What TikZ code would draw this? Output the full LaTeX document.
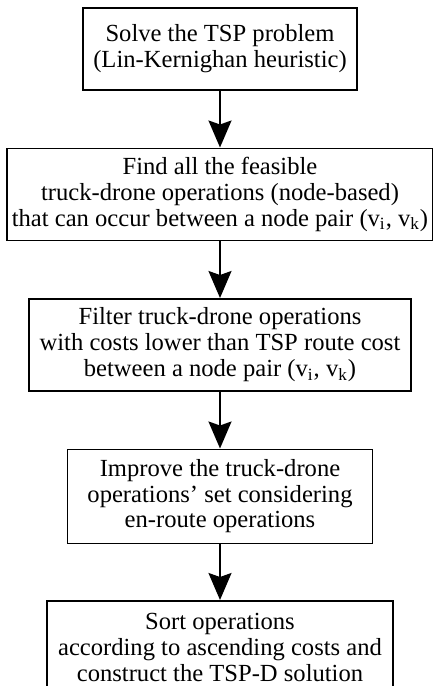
\documentclass[tikz,border=0pt]{standalone}
\usepackage{fontspec}
\setmainfont{Liberation Serif}
\usetikzlibrary{arrows.meta,positioning}

\begin{document}
\begin{tikzpicture}[font=\fontsize{12.3}{12.9}\selectfont,
  >={Stealth[length=13.5pt,width=11.5pt,inset=2pt]},
  m/.style={draw,line width=0.75pt,align=center,inner sep=2pt},
  arr/.style={->,line width=1pt}]
\useasboundingbox (0,0) rectangle (216.5pt,-343pt);
\node[m,anchor=north,minimum width=137pt,minimum height=41pt] (tsp) at (110pt,-3.5pt)
  {Solve the TSP problem\\(Lin-Kernighan heuristic)};
\node[m,below=28.5pt of tsp,minimum width=213pt,minimum height=46pt] (find)
  {Find all the feasible\\truck-drone operations (node-based)\\that can occur between a node pair (v\textsubscript{i}, v\textsubscript{k})};
\node[m,below=28.5pt of find,minimum width=191pt,minimum height=46pt] (filter)
  {Filter truck-drone operations\\with costs lower than TSP route cost\\between a node pair (v\textsubscript{i}, v\textsubscript{k})};
\node[m,below=28.5pt of filter,minimum width=152.5pt,minimum height=47pt] (impr)
  {Improve the truck-drone\\operations' set considering\\en-route operations};
\node[m,below=28pt of impr,minimum width=173pt,minimum height=47pt] (sort)
  {Sort operations\\according to ascending costs and\\construct the TSP-D solution};
\draw[arr] (tsp) -- (find);
\draw[arr] (find) -- (filter);
\draw[arr] (filter) -- (impr);
\draw[arr] (impr) -- (sort);
\end{tikzpicture}
\end{document}
